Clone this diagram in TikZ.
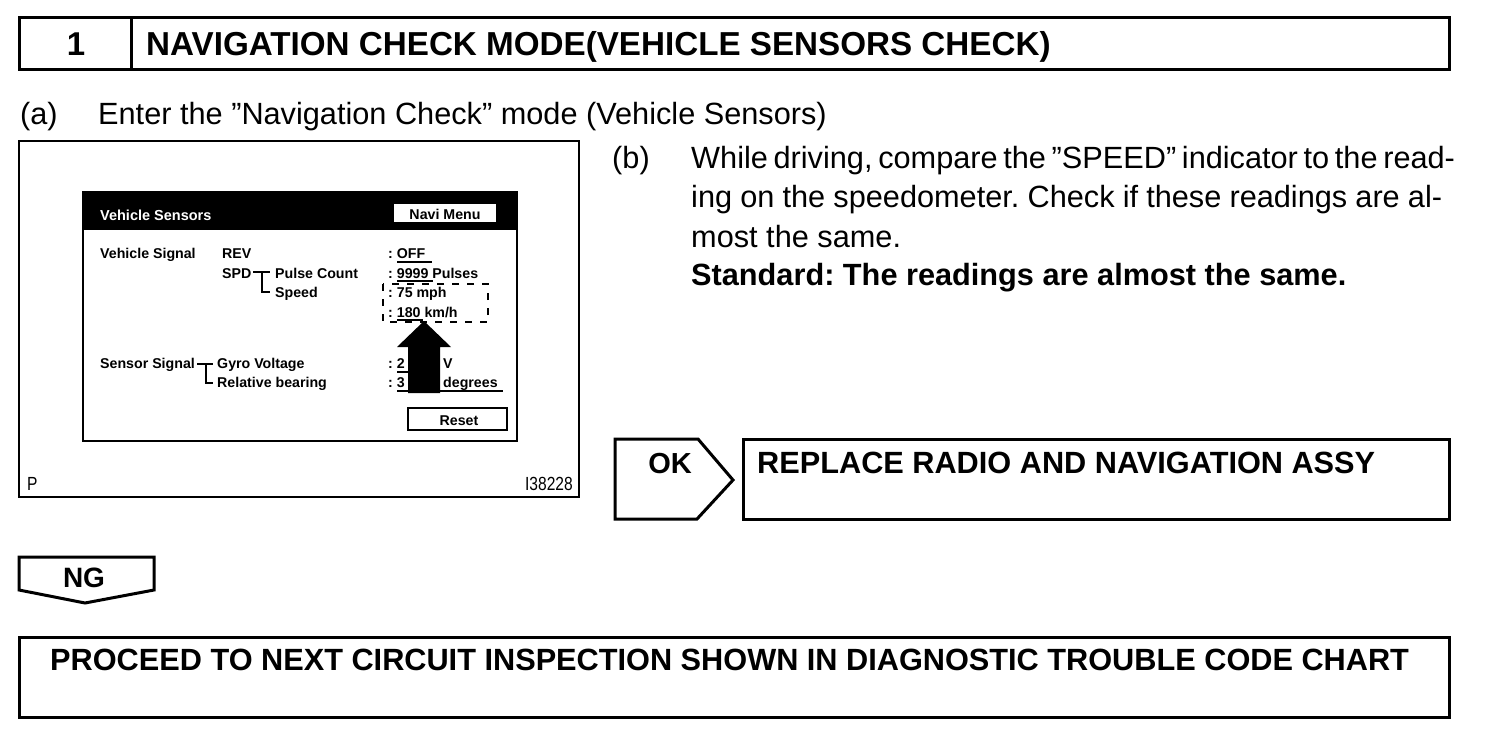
\documentclass[tikz,border=0pt]{standalone}
\usepackage{fontspec}
\setmainfont{Liberation Sans}
\newfontfamily\condfont[FakeStretch=0.82]{Liberation Sans}
\frenchspacing
\begin{document}
\frenchspacing
\begin{tikzpicture}[x=1pt,y=-1pt,line join=miter,
  box/.style={draw=black,line width=3pt},
  big/.style={font=\fontsize{30.7}{36}\selectfont,anchor=base west,inner sep=0pt},
  bigb/.style={font=\fontsize{30.7}{36}\selectfont\bfseries,anchor=base west,inner sep=0pt},
  scr/.style={font=\fontsize{14.2}{16}\selectfont\bfseries,anchor=base west,inner sep=0pt},
  thin/.style={line width=1.8pt}]
\useasboundingbox (0,0) rectangle (1504,734);
% header
\draw[box] (19,17) rectangle (1449,69);
\draw[box] (131,17) -- (131,69);
\node[font=\fontsize{33}{36}\selectfont\bfseries,anchor=base,inner sep=0pt] (num) at (76,55) {1};
\node[font=\fontsize{33.2}{36}\selectfont\bfseries,anchor=base west,inner sep=0pt] (title) at (146,55) {NAVIGATION CHECK MODE(VEHICLE SENSORS CHECK)};
% (a)
\node[big] (alab) at (20,124) {(a)};
\node[big] (atext) at (98,124) {Enter the ”Navigation Check” mode (Vehicle Sensors)};
% screen picture
\draw[line width=2.5pt] (19,141) rectangle (579,497);
\fill (83,192) rectangle (517,230);
\draw[line width=2pt] (83,192) rectangle (517,441);
\node[scr,font=\fontsize{14.5}{16}\selectfont\bfseries,text=white] (vs) at (100,220) {Vehicle Sensors};
\draw[thin,fill=white] (393,203) rectangle (497,223);
\node[scr,anchor=base] (navi) at (445,219) {Navi Menu};
\node[scr] (vsig) at (100,258) {Vehicle Signal};
\node[scr] (rev) at (222,258) {REV};
\node[scr] (spd) at (222,278) {SPD};
\node[scr] (pc) at (275,278) {Pulse Count};
\node[scr] (spe) at (275,297) {Speed};
\draw[thin] (253,272) -- (270,272) (262,272) -- (262,292) -- (270,292);
\node[scr] (off) at (388,258) {: OFF};
\draw[thin] (397,262) -- (432,262);
\node[scr] (pul) at (388,278) {: 9999 Pulses};
\draw[thin] (397,281) -- (433,281);
\node[scr] (mph) at (388,297) {: 75 mph};
\node[scr] (kmh) at (388,317) {: 180 km/h};
\draw[thin] (397,320) -- (423,320);
\draw[line width=1.8pt,dash pattern=on 7pt off 8pt] (383,284) rectangle (488,322);
\node[scr] (ssig) at (100,368) {Sensor Signal};
\node[scr] (gyro) at (217,368) {Gyro Voltage};
\node[scr] (rel) at (217,387) {Relative bearing};
\draw[thin] (197,364) -- (213,364) (206,364) -- (206,383) -- (213,383);
\node[scr] (gv) at (388,368) {: 2};
\node[scr] (gvu) at (443,368) {V};
\draw[thin] (397,372) -- (410,372);
\node[scr] (rb) at (388,387) {: 3};
\node[scr] (rbu) at (443,387) {degrees};
\draw[thin] (397,391) -- (503,391);
\fill (424,321) -- (451,347) -- (440,347) -- (440,393) -- (408,393) -- (408,347) -- (397,347) -- cycle;
\draw[line width=2pt] (408,408) rectangle (507,430);
\node[scr,anchor=base] (reset) at (459,425) {Reset};
\node[font=\fontsize{19}{20}\selectfont\condfont,anchor=base west,inner sep=0pt] (p) at (27,490) {P};
\node[font=\fontsize{19}{20}\selectfont\condfont,anchor=base east,inner sep=0pt] (fig) at (573,490) {I38228};
% (b)
\node[big] (blab) at (612,168) {(b)};
\node[big] (b1) at (691,168) {\makebox[751pt][s]{While driving, compare the ”SPEED” indicator to the read-}};
\node[big] (b2) at (691,207) {\makebox[751pt][s]{ing on the speedometer. Check if these readings are al-}};
\node[big] (b3) at (691,247) {most the same.};
\node[bigb] (b4) at (691,285) {Standard: The readings are almost the same.};
% OK branch
\draw[box] (615,439) -- (698,439) -- (733,480) -- (697,519) -- (615,519) -- cycle;
\node[font=\fontsize{29}{32}\selectfont\bfseries,anchor=base,inner sep=0pt] (ok) at (670,473) {OK};
\draw[box] (743,439) rectangle (1449,519);
\node[bigb] (repl) at (757,473) {REPLACE RADIO AND NAVIGATION ASSY};
% NG branch
\draw[box] (19,557) -- (154,557) -- (154,590) -- (85,603) -- (19,590) -- cycle;
\node[font=\fontsize{28}{32}\selectfont\bfseries,anchor=base,inner sep=0pt] (ng) at (84,587) {NG};
\draw[box] (19,637) rectangle (1449,717);
\node[bigb] (proc) at (50,670) {PROCEED TO NEXT CIRCUIT INSPECTION SHOWN IN DIAGNOSTIC TROUBLE CODE CHART};
\end{tikzpicture}
\end{document}
